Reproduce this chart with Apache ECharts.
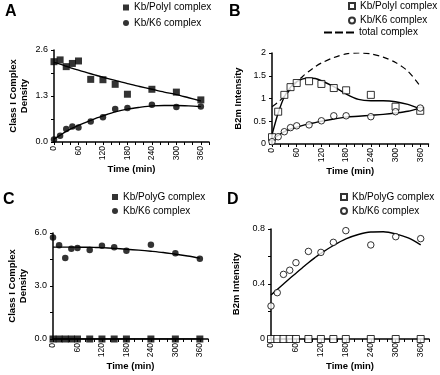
<!DOCTYPE html>
<html>
<head>
<meta charset="utf-8">
<script src="https://cdn.jsdelivr.net/npm/echarts@6/dist/echarts.min.js"></script>
<style>
  html, body { margin: 0; padding: 0; background: #fff; }
  #main { width: 440px; height: 375px; }
</style>
</head>
<body>
<div id="main"></div>
<script>
// sample times (min) for measured points
var times = [0, 15, 30, 45, 60, 90, 120, 150, 180, 240, 300, 360];
// times used for the fitted curves
var fitTimes = [0, 15, 30, 45, 60, 75, 90, 105, 120, 150, 180, 210, 240, 270, 300, 330, 360];

// panel A - class I complex density
var aPolyI = [2.27, 2.32, 2.13, 2.22, 2.29, 1.77, 1.76, 1.63, 1.35, 1.49, 1.41, 1.19];
var aK6 = [0.07, 0.18, 0.37, 0.44, 0.41, 0.58, 0.70, 0.93, 0.96, 1.05, 0.99, 1.00];
var aPolyIFit = [2.25, 2.2, 2.14, 2.08, 2.03, 1.98, 1.93, 1.88, 1.83, 1.74, 1.65, 1.57, 1.49, 1.41, 1.34, 1.25, 1.16];
var aK6Fit = [0.08, 0.19, 0.3, 0.39, 0.47, 0.54, 0.61, 0.68, 0.74, 0.85, 0.93, 0.98, 1.02, 1.03, 1.03, 1.02, 1.0];

// panel B - B2m intensity
var bPolyI = [0.15, 0.71, 1.08, 1.25, 1.34, 1.38, 1.32, 1.23, 1.18, 1.08, 0.82, 0.73];
var bK6 = [0.05, 0.16, 0.27, 0.36, 0.40, 0.42, 0.51, 0.62, 0.62, 0.60, 0.71, 0.79];
var bPolyIFit = [0.2, 0.68, 1.04, 1.25, 1.37, 1.43, 1.45, 1.44, 1.39, 1.26, 1.1, 0.98, 0.95, 0.95, 0.93, 0.87, 0.77];
var bK6Fit = [0.1, 0.19, 0.27, 0.33, 0.37, 0.41, 0.44, 0.47, 0.5, 0.55, 0.59, 0.61, 0.63, 0.65, 0.68, 0.72, 0.79];
var bTotal = [0.82, 0.92, 1.05, 1.2, 1.36, 1.49, 1.6, 1.7, 1.78, 1.9, 1.98, 2.0, 1.98, 1.91, 1.79, 1.6, 1.27];

// panel C - class I complex density
var cPolyG = [0, 0, 0, 0, 0, 0, 0, 0, 0, 0, 0, 0];
var cK6 = [5.75, 5.3, 4.58, 5.11, 5.15, 5.04, 5.28, 5.2, 5.0, 5.34, 4.86, 4.54];
var cPolyGFit = [0, 0, 0, 0, 0, 0, 0, 0, 0, 0, 0, 0, 0, 0, 0, 0, 0];
var cK6Fit = [5.2, 5.2, 5.2, 5.2, 5.2, 5.19, 5.19, 5.18, 5.17, 5.13, 5.08, 5.03, 4.97, 4.9, 4.8, 4.7, 4.58];

// panel D - B2m intensity
var dPolyG = [0, 0, 0, 0, 0, 0, 0, 0, 0, 0, 0, 0];
var dK6 = [0.24, 0.337, 0.47, 0.5, 0.555, 0.637, 0.63, 0.703, 0.788, 0.684, 0.744, 0.73];
var dK6Fit = [0.32, 0.36, 0.4, 0.44, 0.478, 0.517, 0.555, 0.59, 0.623, 0.68, 0.728, 0.76, 0.778, 0.78, 0.765, 0.735, 0.685];

var FONT = '"Liberation Sans", Arial, Helvetica, sans-serif';

function pairs(xs, ys) {
  return xs.map(function (x, i) { return [x, ys[i]]; });
}

function xAxisFor(idx, gap) {
  return {
    type: 'value', gridIndex: idx, min: 0, max: 380, interval: 20,
    name: 'Time (min)', nameLocation: 'middle', nameGap: gap,
    nameTextStyle: { fontFamily: FONT, fontWeight: 'bold', fontSize: 9.5, color: '#000' },
    axisLine: { onZero: false, lineStyle: { color: '#000', width: 1.5 } },
    axisTick: { length: 3, lineStyle: { color: '#000', width: 1 } },
    axisLabel: {
      rotate: 90, margin: 4, fontFamily: FONT, fontSize: 8.5, color: '#000',
      formatter: function (v) { return v % 60 === 0 && v <= 360 ? String(v) : ''; }
    },
    splitLine: { show: false }
  };
}

function yAxisFor(idx, max, interval, step, fmt, name, gap) {
  return {
    type: 'value', gridIndex: idx, min: 0, max: max, interval: interval,
    name: name, nameLocation: 'middle', nameGap: gap,
    nameTextStyle: { fontFamily: FONT, fontWeight: 'bold', fontSize: 9.5, color: '#000', lineHeight: 11 },
    axisLine: { show: true, lineStyle: { color: '#000', width: 1.5 } },
    axisTick: { show: true, length: 3, lineStyle: { color: '#000', width: 1 } },
    axisLabel: {
      margin: 6, fontFamily: FONT, fontSize: 9, color: '#000',
      formatter: function (v) {
        var r = v / step;
        return Math.abs(r - Math.round(r)) < 1e-6 ? fmt(v) : '';
      }
    },
    splitLine: { show: false }
  };
}

function scatter(name, idx, ys, symbol, filled) {
  return {
    name: name, type: 'scatter', xAxisIndex: idx, yAxisIndex: idx,
    data: pairs(times, ys), symbol: symbol, symbolSize: symbol === 'rect' ? 7 : 6.5,
    clip: false, z: 4,
    itemStyle: filled
      ? { color: '#000' }
      : { color: '#fff', borderColor: '#000', borderWidth: 1 }
  };
}

function fit(name, idx, ys, dashed) {
  return {
    name: name, type: 'line', xAxisIndex: idx, yAxisIndex: idx,
    data: pairs(fitTimes, ys), smooth: 0.3, symbol: 'none', z: 3,
    lineStyle: { color: '#000', width: dashed ? 1.2 : 1.4, type: dashed ? [6, 4] : 'solid' },
    itemStyle: { color: '#000' }
  };
}

function legendFor(names, left, top, w, h, gap) {
  return {
    data: names, orient: 'vertical', left: left, top: top, padding: 0,
    itemWidth: w, itemHeight: h || 6, itemGap: gap === undefined ? 3 : gap,
    textStyle: { fontFamily: FONT, fontSize: 10, color: '#000' },
    formatter: function (n) { return n.split('#')[0]; },
    selectedMode: false
  };
}

function fmt1(v) { return v.toFixed(1); }
function fmtPlain(v) { return String(+v.toFixed(2)); }

var titleStyle = { fontFamily: FONT, fontWeight: 'bold', fontSize: 16, color: '#000' };

var chart = echarts.init(document.getElementById('main'), null, { renderer: 'canvas' });

var option = {
  backgroundColor: '#fff',
  animation: false,
  title: [
    { text: 'A', left: 5, top: 4, padding: 0, textStyle: titleStyle },
    { text: 'B', left: 229, top: 4, padding: 0, textStyle: titleStyle },
    { text: 'C', left: 3, top: 192, padding: 0, textStyle: titleStyle },
    { text: 'D', left: 227, top: 192, padding: 0, textStyle: titleStyle }
  ],
  legend: [
    legendFor(['Kb/PolyI complex#A', 'Kb/K6 complex#A'], 123, 2.5, 6, 6, 5.5),
    legendFor(['Kb/PolyI complex#B', 'Kb/K6 complex#B'], 348, 1, 6, 6, 4.5),
    legendFor([{ name: 'total complex#B', icon: 'path://M0,0h8v2h-8zM11,0h8v2h-8zM22,0h8v2h-8z' }], 324, 27.5, 30, 2, 0),
    legendFor(['Kb/PolyG complex#C', 'Kb/K6 complex#C'], 112, 192, 6, 6, 4),
    legendFor(['Kb/PolyG complex#D', 'Kb/K6 complex#D'], 340, 192, 6, 6, 4)
  ],
  grid: [
    { left: 54, top: 50, width: 155, height: 92 },
    { left: 272, top: 53, width: 156.5, height: 91 },
    { left: 53, top: 233, width: 155, height: 106 },
    { left: 271, top: 229, width: 158, height: 110 }
  ],
  xAxis: [xAxisFor(0, 18), xAxisFor(1, 18), xAxisFor(2, 20), xAxisFor(3, 20)],
  yAxis: [
    yAxisFor(0, 2.6, 0.65, 1.3, fmt1, 'Class I Complex\nDensity', 24),
    yAxisFor(1, 2, 0.5, 0.5, fmtPlain, 'B2m Intensity', 28),
    yAxisFor(2, 6, 1.5, 3, fmt1, 'Class I Complex\nDensity', 24),
    yAxisFor(3, 0.8, 0.2, 0.4, fmtPlain, 'B2m Intensity', 29)
  ],
  series: [
    fit('fitA1', 0, aPolyIFit),
    fit('fitA2', 0, aK6Fit),
    scatter('Kb/PolyI complex#A', 0, aPolyI, 'rect', true),
    scatter('Kb/K6 complex#A', 0, aK6, 'circle', true),

    fit('fitB1', 1, bPolyIFit),
    fit('fitB2', 1, bK6Fit),
    fit('total complex#B', 1, bTotal, true),
    scatter('Kb/PolyI complex#B', 1, bPolyI, 'rect', false),
    scatter('Kb/K6 complex#B', 1, bK6, 'circle', false),

    fit('fitC1', 2, cPolyGFit),
    fit('fitC2', 2, cK6Fit),
    scatter('Kb/PolyG complex#C', 2, cPolyG, 'rect', true),
    scatter('Kb/K6 complex#C', 2, cK6, 'circle', true),

    fit('fitD2', 3, dK6Fit),
    scatter('Kb/PolyG complex#D', 3, dPolyG, 'rect', false),
    scatter('Kb/K6 complex#D', 3, dK6, 'circle', false)
  ]
};

chart.setOption(option);
</script>
</body>
</html>
